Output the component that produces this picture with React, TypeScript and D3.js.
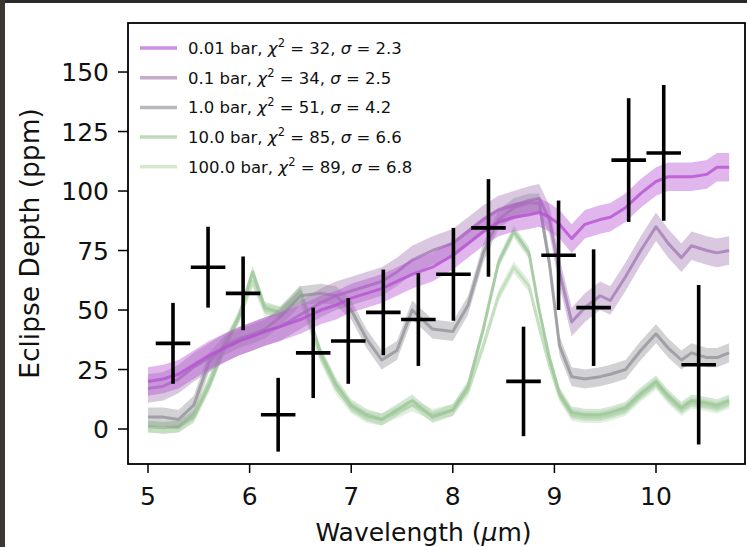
import React from "react";
import * as d3 from "d3";

// model wavelength grid (µm)
const wavelength = [5.0, 5.15, 5.3, 5.45, 5.6, 5.75, 5.9, 6.03, 6.15, 6.3, 6.5, 6.7, 6.85, 7.0, 7.15, 7.3, 7.45, 7.6, 7.8, 8.0, 8.15, 8.3, 8.45, 8.6, 8.75, 8.85, 8.95, 9.05, 9.17, 9.3, 9.45, 9.55, 9.7, 9.85, 10.0, 10.12, 10.25, 10.35, 10.5, 10.6, 10.72];

// model eclipse depths (ppm)
const depth001 = [20, 21, 23, 27, 31, 34, 37, 39, 41, 43, 46, 50, 52, 55, 57, 59, 62, 65, 68, 73, 78, 83, 87, 89, 90, 91, 89, 86, 80, 86, 88, 89, 93, 99, 104, 106, 106, 106, 107, 110, 110];
const depth01 = [17, 18, 21, 26, 30, 34, 37, 39, 41, 43, 48, 53, 56, 58, 60, 62, 66, 71, 75, 78, 83, 88, 92, 94, 96, 97, 88, 66, 45, 51, 56, 54, 64, 75, 85, 78, 72, 77, 75, 74, 75];
const depth1 = [5, 5, 4, 10, 28, 35, 38, 40, 42, 47, 56, 57, 56, 50, 38, 29, 33, 50, 42, 41, 52, 74, 88, 93, 95, 95, 70, 35, 22, 21, 22, 23, 25, 33, 40, 34, 29, 32, 30, 30, 32];
const depth10 = [1, 0.5, 1, 5, 18, 34, 48, 66, 51, 49, 58, 32, 19, 10, 6, 4, 8, 12, 5, 8, 18, 42, 70, 83, 74, 50, 30, 15, 7, 6, 6, 7, 9, 15, 20, 14, 9, 12, 11, 10, 12];
const depth100 = [1, 0.5, 1, 6, 20, 36, 47, 62, 50, 49, 55, 30, 17, 9, 5, 4, 7, 10, 6, 8, 16, 35, 56, 68, 60, 43, 27, 14, 6, 5, 5, 6, 8, 14, 19, 13, 8, 11, 10, 9, 11];

// model uncertainty half-widths (ppm)
const bandHalfWidth = [6, 6, 4, 2.5, 2.5];

// legend
const pressures = ["0.01", "0.1", "1.0", "10.0", "100.0"];
const chi2 = [32, 34, 51, 85, 89];
const sigma = [2.3, 2.5, 4.2, 6.6, 6.8];

// observed data
const obsWavelength = [5.246, 5.591, 5.936, 6.281, 6.626, 6.971, 7.316, 7.661, 8.006, 8.351, 8.696, 9.041, 9.386, 9.731, 10.076, 10.42];
const obsDepth = [36, 68, 57, 6, 32, 37, 49, 46, 65, 84.5, 20, 73, 51, 113, 116, 27];
const obsErr = [17, 17, 15.5, 15.5, 19, 18, 18, 19.5, 19.5, 20.5, 23, 23, 24.5, 26, 28.5, 33.5];
const obsHalfBin = 0.17;

const xTicks = [5, 6, 7, 8, 9, 10];
const yTicks = [0, 25, 50, 75, 100, 125, 150];

const colors = ["#b552d2", "#a47cb6", "#94949a", "#9cc598", "#bcdcb6"];

export default function App() {
  const W = 747, H = 547;
  const left = 128, right = 745, top = 23, bottom = 464;
  const x = d3.scaleLinear().domain([4.803, 10.876]).range([left, right]);
  const y = d3.scaleLinear().domain([-14.7, 170.6]).range([bottom, top]);
  const allDepths = [depth001, depth01, depth1, depth10, depth100];

  const lineGen = d3.line<number>().x((_, i) => x(wavelength[i])).y((d) => y(d));
  const areaGen = (hw: number) =>
    d3.area<number>().x((_, i) => x(wavelength[i])).y0((d) => y(d - hw)).y1((d) => y(d + hw));

  const order = [4, 3, 2, 1, 0];
  const font = "DejaVu Sans";

  return (
    <svg width={W} height={H} style={{ position: "absolute", left: 0, top: 0, background: "#fff" }} fontFamily={font}>
      <rect x={0} y={0} width={W} height={H} fill="#fff" />
      <defs>
        <clipPath id="plot">
          <rect x={left} y={top} width={right - left} height={bottom - top} />
        </clipPath>
      </defs>
      <g clipPath="url(#plot)">
        {order.map((k) => (
          <g key={k}>
            <path d={areaGen(bandHalfWidth[k])(allDepths[k]) || ""} fill={colors[k]} fillOpacity={0.42} />
            <path d={lineGen(allDepths[k]) || ""} fill="none" stroke={colors[k]} strokeOpacity={0.8} strokeWidth={3} strokeLinejoin="round" />
          </g>
        ))}
        {obsWavelength.map((w, i) => (
          <g key={i} stroke="#000" strokeWidth={3.6}>
            <line x1={x(w - obsHalfBin)} x2={x(w + obsHalfBin)} y1={y(obsDepth[i])} y2={y(obsDepth[i])} />
            <line x1={x(w)} x2={x(w)} y1={y(obsDepth[i] - obsErr[i])} y2={y(obsDepth[i] + obsErr[i])} />
          </g>
        ))}
      </g>
      <rect x={left} y={top} width={right - left} height={bottom - top} fill="none" stroke="#000" strokeWidth={1.8} />
      {/* x ticks */}
      {xTicks.map((t) => (
        <g key={t}>
          <line x1={x(t)} x2={x(t)} y1={bottom} y2={bottom + 9} stroke="#000" strokeWidth={1.5} />
          <text x={x(t)} y={505} textAnchor="middle" fontSize={25} fill="#111">{t}</text>
        </g>
      ))}
      {yTicks.map((t) => (
        <g key={t}>
          <line x1={left - 10} x2={left} y1={y(t)} y2={y(t)} stroke="#000" strokeWidth={1.5} />
          <text x={left - 19} y={y(t) + 9} textAnchor="end" fontSize={25} fill="#111">{t}</text>
        </g>
      ))}
      <text x={(left + right) / 2 - 13} y={541} textAnchor="middle" fontSize={25} fill="#111">
        Wavelength (<tspan fontStyle="italic">μ</tspan>m)
      </text>
      <text transform={`translate(39, ${(top + bottom) / 2}) rotate(-90)`} textAnchor="middle" fontSize={26.5} fill="#111">
        Eclipse Depth (ppm)
      </text>
      {/* legend */}
      {pressures.map((p, i) => {
        const cy = 48 + i * 29.7;
        return (
          <g key={p}>
            <line x1={140} x2={177} y1={cy} y2={cy} stroke={colors[i]} strokeOpacity={0.65} strokeWidth={3.5} />
            <text x={188} y={cy + 6} fontSize={16.5} fill="#111">
              {p} bar, <tspan fontStyle="italic">χ</tspan>
              <tspan dy={-7} fontSize={11.5}>2</tspan>
              <tspan dy={7}> = {chi2[i]}, </tspan>
              <tspan fontStyle="italic">σ</tspan> = {sigma[i]}
            </text>
          </g>
        );
      })}
      {/* screenshot frame */}
      <rect x={0} y={0} width={W} height={3} fill="#2a2a2a" />
      <rect x={0} y={0} width={5} height={H} fill="#3a3632" />
    </svg>
  );
}
